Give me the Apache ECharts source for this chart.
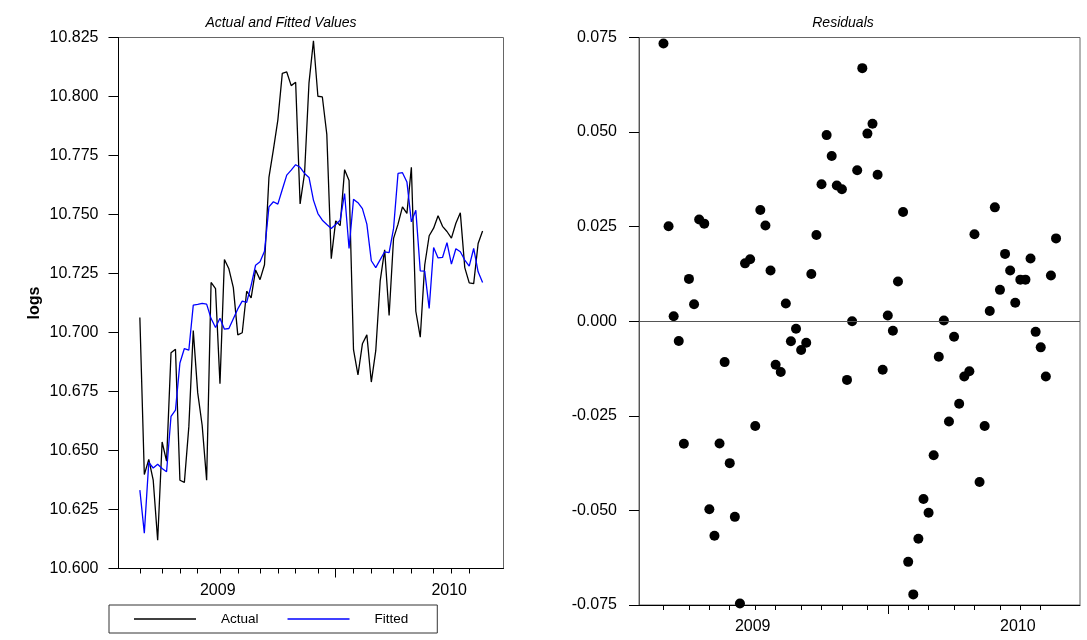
<!DOCTYPE html>
<html>
<head>
<meta charset="utf-8">
<script src="https://cdn.jsdelivr.net/npm/echarts@6/dist/echarts.min.js"></script>
<style>
html,body{margin:0;padding:0;background:#fff;}
#chart{width:1087px;height:640px;}
</style>
</head>
<body>
<div id="chart"></div>
<script>
// Weekly observations (index 0..77)
var actual = [
10.7064, 10.6398, 10.6462, 10.6374, 10.6120, 10.6536, 10.6455, 10.6914, 10.6929, 10.6374,
10.6365, 10.6600, 10.7008, 10.6744, 10.6606, 10.6374, 10.7212, 10.7186, 10.6783, 10.7309,
10.7270, 10.7190, 10.6990, 10.6999, 10.7175, 10.7147, 10.7265, 10.7224, 10.7287, 10.7657,
10.7775, 10.7900, 10.8098, 10.8104, 10.8046, 10.8060, 10.7545, 10.7674, 10.8058, 10.8236,
10.8001, 10.7998, 10.7840, 10.7313, 10.7473, 10.7453, 10.7690, 10.7644, 10.6927, 10.6820,
10.6952, 10.6990, 10.6790, 10.6923, 10.7220, 10.7350, 10.7072, 10.7399, 10.7459, 10.7532,
10.7505, 10.7700, 10.7090, 10.6980, 10.7286, 10.7410, 10.7442, 10.7495, 10.7450, 10.7428,
10.7400, 10.7463, 10.7507, 10.7275, 10.7210, 10.7207, 10.7377, 10.7430];

var fitted = [
10.6332, 10.6150, 10.6449, 10.6426, 10.6442, 10.6424, 10.6410, 10.6645, 10.6671, 10.6871,
10.6932, 10.6925, 10.7116, 10.7119, 10.7123, 10.7120, 10.7059, 10.7021, 10.7060, 10.7014,
10.7017, 10.7058, 10.7100, 10.7133, 10.7128, 10.7200, 10.7285, 10.7300, 10.7344, 10.7532,
10.7554, 10.7544, 10.7606, 10.7667, 10.7688, 10.7711, 10.7700, 10.7674, 10.7657, 10.7561,
10.7504, 10.7476, 10.7458, 10.7441, 10.7458, 10.7476, 10.7589, 10.7356, 10.7564, 10.7550,
10.7525, 10.7459, 10.7304, 10.7275, 10.7309, 10.7342, 10.7338, 10.7441, 10.7674, 10.7677,
10.7638, 10.7469, 10.7518, 10.7261, 10.7260, 10.7102, 10.7360, 10.7316, 10.7318, 10.7381,
10.7290, 10.7355, 10.7342, 10.7307, 10.7281, 10.7356, 10.7257, 10.7212];

var residuals = [
0.0734, 0.0251, 0.0013, -0.0052, -0.0324, 0.0112, 0.0045, 0.0269, 0.0258, -0.0497,
-0.0567, -0.0323, -0.0108, -0.0375, -0.0517, -0.0746, 0.0153, 0.0164, -0.0277, 0.0294,
0.0253, 0.0134, -0.0115, -0.0134, 0.0047, -0.0053, -0.0020, -0.0076, -0.0057, 0.0125,
0.0228, 0.0362, 0.0492, 0.0437, 0.0359, 0.0349, -0.0155, 0.0000, 0.0399, 0.0669,
0.0496, 0.0522, 0.0387, -0.0128, 0.0015, -0.0025, 0.0105, 0.0289, -0.0636, -0.0722,
-0.0575, -0.0470, -0.0506, -0.0354, -0.0094, 0.0002, -0.0265, -0.0041, -0.0218, -0.0146,
-0.0132, 0.0230, -0.0425, -0.0277, 0.0027, 0.0301, 0.0083, 0.0178, 0.0134, 0.0049,
0.0110, 0.0110, 0.0166, -0.0028, -0.0069, -0.0146, 0.0121, 0.0219];

// Axis ticks (observation index of month starts) and year labels
var monthTicks = [0, 5, 9, 13, 18, 22, 27, 31, 35, 40, 48, 52, 57, 61, 66, 70, 74];
var majorTicks = [44];
var yearLabels = ['2009', '2010'];
var yearLabelAt = [17.5, 69.5];

var FONT = '"Liberation Sans", Arial, sans-serif';
var X_MIN = -4.8, X_MAX = 81.7;

function pairs(arr){ return arr.map(function(v,i){ return [i, v]; }); }

function xMinor(grid){
  return {
    type:'value', gridIndex:grid, min:X_MIN, max:X_MAX, position:'bottom',
    axisLine:{show:true, onZero:false, lineStyle:{color:'#000', width:1}},
    axisTick:{show:true, customValues:monthTicks, length:5, lineStyle:{color:'#000'}},
    axisLabel:{show:true, customValues:yearLabelAt, margin:14, fontSize:16, color:'#000', fontFamily:FONT,
      formatter:function(v){ var k = yearLabelAt.indexOf(v); return k >= 0 ? yearLabels[k] : ''; }},
    splitLine:{show:false}
  };
}
function xMajor(grid){
  return {
    type:'value', gridIndex:grid, min:X_MIN, max:X_MAX, position:'bottom',
    axisLine:{show:false, onZero:false},
    axisTick:{show:true, customValues:majorTicks, length:9, lineStyle:{color:'#000'}},
    axisLabel:{show:false},
    splitLine:{show:false}
  };
}

var chart = echarts.init(document.getElementById('chart'), null, {renderer:'canvas'});
chart.setOption({
  animation:false,
  backgroundColor:'#fff',
  textStyle:{fontFamily:FONT},
  title:[
    {text:'Actual and Fitted Values', left:276, top:11, textAlign:'center',
     textStyle:{fontSize:14, fontStyle:'italic', fontWeight:'normal', color:'#000', fontFamily:FONT}},
    {text:'Residuals', left:838, top:11, textAlign:'center',
     textStyle:{fontSize:14, fontStyle:'italic', fontWeight:'normal', color:'#000', fontFamily:FONT}}
  ],
  legend:{
    left:109, top:605, orient:'horizontal',
    data:['Actual','Fitted'],
    icon:'rect',
    itemWidth:62, itemHeight:1.4, itemGap:29,
    padding:[7,29,7,25],
    borderColor:'#333', borderWidth:1,
    textStyle:{fontSize:13.5, color:'#000', fontFamily:FONT, padding:[0,0,0,20]},
    selectedMode:false
  },
  grid:[
    {left:118.5, top:37.5, width:385, height:531, show:true, borderColor:'#666', borderWidth:1, containLabel:false},
    {left:639, top:37.5, width:441, height:567.5, show:true, borderColor:'#666', borderWidth:1, containLabel:false}
  ],
  xAxis:[ xMinor(0), xMajor(0), xMinor(1), xMajor(1) ],
  yAxis:[
    {type:'value', gridIndex:0, min:10.6, max:10.825, interval:0.025,
     name:'logs', nameLocation:'middle', nameGap:76, nameRotate:90,
     nameTextStyle:{fontSize:16, fontWeight:'bold', color:'#000', fontFamily:FONT},
     axisLine:{show:true, onZero:false, lineStyle:{color:'#000'}},
     axisTick:{show:true, length:10, lineStyle:{color:'#000'}},
     axisLabel:{margin:20, fontSize:16, color:'#000', fontFamily:FONT, formatter:function(v){return v.toFixed(3);}},
     splitLine:{show:false}},
    {type:'value', gridIndex:1, min:-0.075, max:0.075, interval:0.025,
     axisLine:{show:true, onZero:false, lineStyle:{color:'#555'}},
     axisTick:{show:true, length:10, lineStyle:{color:'#000'}},
     axisLabel:{margin:22, fontSize:16, color:'#000', fontFamily:FONT, formatter:function(v){return v.toFixed(3);}},
     splitLine:{show:false}}
  ],
  series:[
    {name:'Actual', type:'line', xAxisIndex:0, yAxisIndex:0, data:pairs(actual),
     symbol:'none', color:'#000', lineStyle:{color:'#000', width:1.3}},
    {name:'Fitted', type:'line', xAxisIndex:0, yAxisIndex:0, data:pairs(fitted),
     symbol:'none', color:'#0000ff', lineStyle:{color:'#0000ff', width:1.3}},
    {name:'Residuals', type:'scatter', xAxisIndex:2, yAxisIndex:1, data:pairs(residuals),
     symbol:'circle', symbolSize:10, itemStyle:{color:'#000', opacity:1},
     markLine:{silent:true, symbol:'none', label:{show:false},
       lineStyle:{color:'#555', width:1, type:'solid'}, data:[{yAxis:0}]}}
  ]
});
</script>
</body>
</html>
